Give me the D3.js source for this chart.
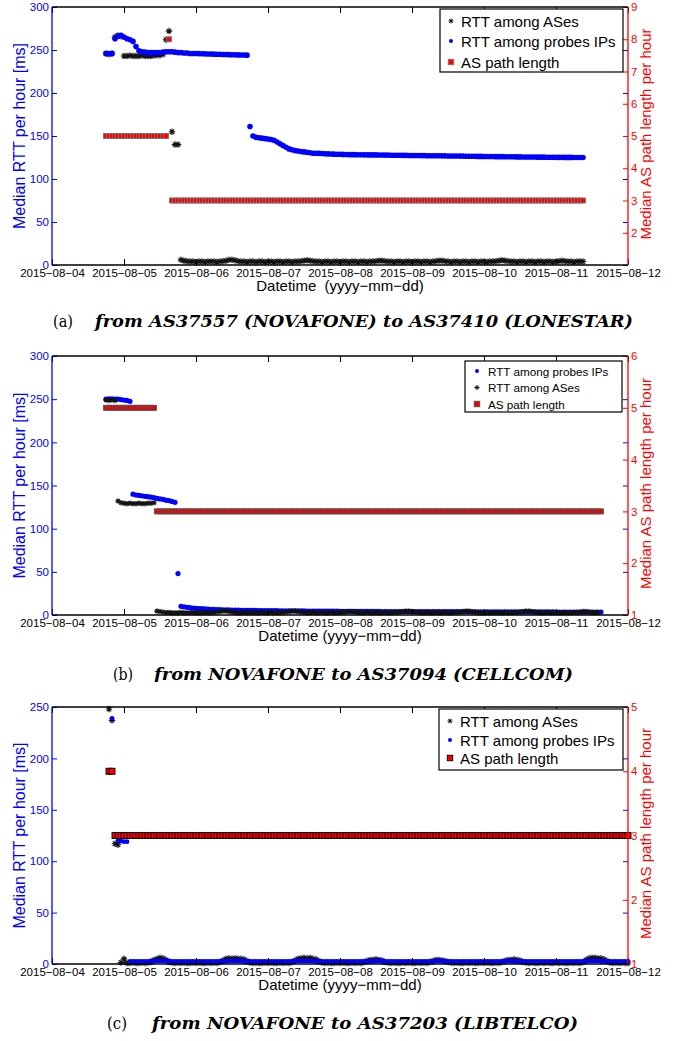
<!DOCTYPE html>
<html><head><meta charset="utf-8">
<script src="https://cdn.jsdelivr.net/npm/d3@7"></script>
<style>body{margin:0;background:#fff}svg{display:block}</style>
</head><body>
<svg id="chart" width="681" height="1041"></svg>
<script>
// ---------------- DATA ----------------
const dayTicks = ["2015-08-04","2015-08-05","2015-08-06","2015-08-07","2015-08-08","2015-08-09","2015-08-10","2015-08-11","2015-08-12"];
const leftTicksA = [0,50,100,150,200,250,300];
const rightTicksA = [2,3,4,5,6,7,8,9];
const leftTicksB = [0,50,100,150,200,250,300];
const rightTicksB = [1,2,3,4,5,6];
const leftTicksC = [0,50,100,150,200,250];
const rightTicksC = [1,2,3,4,5];
const legendA = ["RTT among ASes","RTT among probes IPs","AS path length"];
const legendB = ["RTT among probes IPs","RTT among ASes","AS path length"];
const legendC = ["RTT among ASes","RTT among probes IPs","AS path length"];
const captionTags = ["(a)","(b)","(c)"];
const captionTexts = ["from AS37557 (NOVAFONE) to AS37410 (LONESTAR)","from NOVAFONE to AS37094 (CELLCOM)","from NOVAFONE to AS37203 (LIBTELCO)"];
const xTitle = ["Datetime  (yyyy−mm−dd)","Datetime (yyyy−mm−dd)","Datetime (yyyy−mm−dd)"];
const yLeftTitle = "Median RTT per hour [ms]";
const yRightTitle = "Median AS path length per hour";

// Panel (a) hourly series (first value at the start hour)
const aProbesStart = "2015-08-04T18";
const aProbes = [246,246,246,263,266,267,265,263,262,260,254,249,
248,247.5,247,247,247,247,247,247.5,248,248,248,247.5,247,247,246.5,246.5,246,246,246,
245.8,245.6,245.5,245.4,245.3,245.2,245,245,244.8,244.7,244.6,244.5,244.4,244.3,244.2,244.1,244,
161,150,148.5,148,147.5,147,146.5,146,145,143,141,139,137,135,134,133,132.5,132,131.5,131,130.5,130,130,129.8,129.6,129.4,129.2,129,
128.9,128.8,128.7,128.6,128.5,128.4,128.3,128.3,128.2,128.2,128.1,128.1,128,128,128,127.9,127.9,
127.8,127.8,127.7,127.7,127.6,127.6,127.5,127.5,127.4,127.4,127.3,127.3,127.2,127.2,127.1,127.1,127,127,127,126.9,
126.9,126.8,126.8,126.7,126.7,126.6,126.6,126.5,126.5,126.4,126.4,126.3,126.3,126.2,126.2,126.1,126.1,126,126,126,
125.9,125.9,125.8,125.8,125.7,125.7,125.6,125.6,125.5,125.5,125.5,125.4,125.4,125.4,125.3,125.3,125.3,125.2,125.2,125.2,125.1,125.1,125.1,125,125,125,125];
const aASesStart = "2015-08-04T18";
const aASes = [246,245,246,265,267,266,
243,243,243.5,243,243,243,243.5,243,243,243,243.5,244,244,245,
262,272,155,140,140,6,
5,4.5,4,4,3.5,4,4,3.5,4,4,
4,3.5,4,4.5,5,6,6,5.5,4.5,4,
4,3.5,4,4,3.5,4,4,3.5,4,4,
3.5,4,4,3.5,4,4,3.5,4,4,4.5,
5,5.5,5,4.5,4,4,3.5,4,4,3.5,
4,4,3.5,4,4,3.5,4,4,3.5,4,
4,3.5,4,4,4.5,5,5,4.5,4,4,
3.5,4,4,3.5,4,4,3.5,4,4,3.5,
4,4,3.5,4,4.5,5,5,4.5,4,3.5,
4,4,3.5,4,4,3.5,4,4,3.5,4,
4,3.5,4,4,4.5,5,5.5,5,4.5,4,
4,3.5,4,4,3.5,4,4,3.5,4,4,
3.5,4,4,3.5,4,4.5,5,4.5,4,4,
3.5,4,4,4];
const aPathStart = "2015-08-04T18";
const aPath = [
5,5,5,5,5,5,5,5,5,5,
5,5,5,5,5,5,5,5,5,5,
5,8,
3,3,3,3,3,3,3,3,3,3, 3,3,3,3,3,3,3,3,3,3, 3,3,3,3,3,3,3,3,3,3,
3,3,3,3,3,3,3,3,3,3, 3,3,3,3,3,3,3,3,3,3, 3,3,3,3,3,3,3,3,3,3,
3,3,3,3,3,3,3,3,3,3, 3,3,3,3,3,3,3,3,3,3, 3,3,3,3,3,3,3,3,3,3,
3,3,3,3,3,3,3,3,3,3, 3,3,3,3,3,3,3,3,3,3, 3,3,3,3,3,3,3,3,3,3,
3,3,3,3,3,3,3,3,3,3, 3,3,3,3,3,3,3,3];

// Panel (b)
const bProbesStart = "2015-08-04T18";
const bProbes = [250,250.5,250.5,250,250,249.5,249,248.5,247.5,
140,139,138.5,138,137.5,137,136.5,136,135,134.5,134,133,132.5,131.5,130.5,
48,10,
9.5,9,8.5,8,7.8,7.5,7.3,7,6.8,6.6,
6.5,6.3,6.2,6,6,5.9,5.8,5.7,5.6,5.5,
5.5,5.4,5.4,5.3,5.3,5.2,5.2,5.1,5.1,5,
5,5,4.9,4.9,4.9,4.8,4.8,4.8,4.7,4.7,
4.7,4.6,4.6,4.6,4.5,4.5,4.5,4.5,4.4,4.4,
4.4,4.4,4.3,4.3,4.3,4.3,4.2,4.2,4.2,4.2,
4.2,4.1,4.1,4.1,4.1,4.1,4,4,4,4,
4,4,4,4,4,3.9,3.9,3.9,3.9,3.9,
3.9,3.9,3.9,3.9,3.8,3.8,3.8,3.8,3.8,3.8,
3.8,3.8,3.8,3.8,3.8,3.7,3.7,3.7,3.7,3.7,
3.7,3.7,3.7,3.7,3.7,3.7,3.7,3.6,3.6,3.6,
3.6,3.6,3.6,3.6,3.6,3.6,3.6,3.6,3.6,3.6,
3.6,3.6,3.6,3.6,3.5,3.5,3.5,3.5,3.5,3.5,
3.5,3.5,3.5,3.5,3.5,3.5,3.5,3.5,3.5,3.5];
const bASesStart = "2015-08-04T18";
const bASes = [249,248.5,249,248.5,132,
130,129.5,129,129.5,129,129,129.5,129,129,129.5,129.5,130,
4.5,4,3.5,3,3,2.5,2.5,2.5,3,2.5,
2.5,2.5,3,2.5,2.5,2.5,3,2.5,2.5,3,
3.5,4,4.5,4.5,4,3.5,3,2.5,2.5,3,
2.5,2.5,3,2.5,2.5,3,2.5,2.5,3,2.5,
2.5,3,3,3.5,4,4.5,4.5,4,3.5,3,
2.5,2.5,3,2.5,2.5,3,2.5,2.5,3,2.5,
2.5,3,3,3.5,4,4,3.5,3,2.5,2.5,
3,2.5,2.5,3,2.5,2.5,3,2.5,2.5,3,
3,3.5,4,4.5,4.5,4,3.5,3,2.5,2.5,
3,2.5,2.5,3,2.5,2.5,3,2.5,2.5,3,
3,3.5,4,4.5,4.5,4,3.5,3,2.5,2.5,
3,2.5,2.5,3,2.5,2.5,3,2.5,2.5,3,
3,3.5,4,4.5,4.5,4,3.5,3,2.5,2.5,
3,2.5,2.5,3,2.5,2.5,3,2.5,2.5,3,
3,3.5,4,4,3.5,3,2.5,3];
const bPathStart = "2015-08-04T18";
const bPath = [
5,5,5,5,5,5,5,5,5,5,
5,5,5,5,5,5,5,
3,3,3,3,3,3,3,3,3,3, 3,3,3,3,3,3,3,3,3,3, 3,3,3,3,3,3,3,3,3,3,
3,3,3,3,3,3,3,3,3,3, 3,3,3,3,3,3,3,3,3,3, 3,3,3,3,3,3,3,3,3,3,
3,3,3,3,3,3,3,3,3,3, 3,3,3,3,3,3,3,3,3,3, 3,3,3,3,3,3,3,3,3,3,
3,3,3,3,3,3,3,3,3,3, 3,3,3,3,3,3,3,3,3,3, 3,3,3,3,3,3,3,3,3,3,
3,3,3,3,3,3,3,3,3,3, 3,3,3,3,3,3,3,3,3,3, 3,3,3,3,3,3,3,3,3];

// Panel (c)
const cASesStart = "2015-08-04T19";
const cASes = [248,237,117,116,
1.5,5,1,1,1.5,1,1,1.5,1,1.5,
2,4,5,6,5.5,4,2,1.5,1,1.5,
1,1.5,1,1,1.5,1,1.5,1,1,1.5,
1,1.5,1,2,3.5,5,5.5,5,5.5,5,
5,4.5,3,1.5,1,1.5,1,1,1.5,1,
1.5,1,1,1.5,1,1.5,1,2,3.5,5,
5.5,6,5.5,6,5,4.5,3,1.5,1,1.5,
1,1,1.5,1,1.5,1,1,1.5,1,1.5,
1,2,3,4,4,4.5,4,3.5,2,1.5,
1,1.5,1,1,1.5,1,1.5,1,1,1.5,
1,1.5,1,2,3,4,4,3.5,3,2,
1.5,1,1.5,1,1,1.5,1,1.5,1,1,
1.5,1,1.5,1,1,1.5,1,2,3,4,
4,4.5,4,3.5,2,1.5,1,1.5,1,1,
1.5,1,1.5,1,1,1.5,1,1.5,1,1,
1.5,1,1.5,1,2,4,5.5,6,6,5.5,
5.5,4.5,3,1.5,1,1.5,1,1.5,1,1];
const cProbesStart = "2015-08-04T20";
const cProbes = [239,null,120,119.5,119,119,
2.5,2.5,2.5,2.5,2.5,2.5,2.5,3,3,3,
3,3,3,3,2.5,2.5,2.5,2.5,2.5,2.5,
2.5,2.5,2.5,2.5,2.5,2.5,2.5,2.5,2.5,2.5,
2.5,2.5,2.5,3,3,3,3,3,2.5,2.5,
2.5,2.5,2.5,2.5,2.5,2.5,2.5,2.5,2.5,2.5,
2.5,2.5,2.5,2.5,2.5,2.5,3,3,3,3,
3,3,2.5,2.5,2.5,2.5,2.5,2.5,2.5,2.5,
2.5,2.5,2.5,2.5,2.5,2.5,2.5,2.5,2.5,2.5,
2.5,2.5,3,3,3,2.5,2.5,2.5,2.5,2.5,
2.5,2.5,2.5,2.5,2.5,2.5,2.5,2.5,2.5,2.5,
2.5,2.5,3,3,3,2.5,2.5,2.5,2.5,2.5,
2.5,2.5,2.5,2.5,2.5,2.5,2.5,2.5,2.5,2.5,
2.5,2.5,2.5,2.5,2.5,3,3,3,2.5,2.5,
2.5,2.5,2.5,2.5,2.5,2.5,2.5,2.5,2.5,2.5,
2.5,2.5,2.5,2.5,2.5,2.5,2.5,2.5,2.5,2.5,
2.5,2.5,2.5,3,3,3,3,2.5,2.5,2.5,
2.5,2.5,2.5,2.5,2.5,2.5,2.5];
const cPathStart = "2015-08-04T19";
const cPath = [4,4,
3,3,3,3,3,3,3,3,3,3, 3,3,3,3,3,3,3,3,3,3, 3,3,3,3,3,3,3,3,3,3,
3,3,3,3,3,3,3,3,3,3, 3,3,3,3,3,3,3,3,3,3, 3,3,3,3,3,3,3,3,3,3,
3,3,3,3,3,3,3,3,3,3, 3,3,3,3,3,3,3,3,3,3, 3,3,3,3,3,3,3,3,3,3,
3,3,3,3,3,3,3,3,3,3, 3,3,3,3,3,3,3,3,3,3, 3,3,3,3,3,3,3,3,3,3,
3,3,3,3,3,3,3,3,3,3, 3,3,3,3,3,3,3,3,3,3, 3,3,3,3,3,3,3,3,3,3,
3,3,3,3,3,3,3,3,3,3, 3,3,3,3,3,3,3,3,3,3, 3,3];

// ---------------- LAYOUT / STYLE ----------------
const BLUE = "#0000ff", RED = "#ff0000";
const FONT = "'Liberation Sans', Arial, Helvetica, sans-serif";
const SERIF = "'DejaVu Serif', 'Liberation Serif', serif";
const L = 52, R = 628;

const parseT = d3.utcParse("%Y-%m-%dT%H");
const parseDay = d3.utcParse("%Y-%m-%d");
const days = dayTicks.map(parseDay);
const x = d3.scaleUtc().domain([days[0], days[days.length-1]]).range([L, R]);
const fmtDay = d => d3.utcFormat("%Y-%m-%d")(d).replace(/-/g, "−");

function pts(start, values) {
  const t0 = parseT(start);
  return values.map((v, i) => ({t: d3.utcHour.offset(t0, i), v})).filter(d => d.v != null);
}

const asterisk = {
  draw(ctx, size) {
    const r = Math.sqrt(size) / 2, q = r * 0.7071;
    ctx.moveTo(-r, 0); ctx.lineTo(r, 0);
    ctx.moveTo(0, -r); ctx.lineTo(0, r);
    ctx.moveTo(-q, -q); ctx.lineTo(q, q);
    ctx.moveTo(-q, q); ctx.lineTo(q, -q);
  }
};

const panels = [
  { top: 7, bottom: 265, yL: [0, 300], yR: [1, 9], lt: leftTicksA, rt: rightTicksA,
    series: [
      {kind: "star", data: pts(aASesStart, aASes)},
      {kind: "dot", data: pts(aProbesStart, aProbes)},
      {kind: "sq", data: pts(aPathStart, aPath)}],
    st: {star: 6.5, dot: 2.8, sq: 5, sqStroke: "#777", sqFill: "#f00"},
    legend: {x0: 440, x1: 623, y0: 9, y1: 72, rows: [21, 41, 62], mx: 451, tx: 461, fs: 15,
      labels: legendA, kinds: ["star", "dot", "sq"]},
    capY: 327, capClip: 334, tagX: 53, capX: 95, capW: 538 },
  { top: 356, bottom: 615, yL: [0, 300], yR: [1, 6], lt: leftTicksB, rt: rightTicksB,
    series: [
      {kind: "dot", data: pts(bProbesStart, bProbes)},
      {kind: "star", data: pts(bASesStart, bASes)},
      {kind: "sq", data: pts(bPathStart, bPath)}],
    st: {star: 5.5, dot: 2.6, sq: 5, sqStroke: "#555", sqFill: "#e00"},
    legend: {x0: 465, x1: 622, y0: 361, y1: 412, rows: [371, 387.5, 404], mx: 477, tx: 488, fs: 11.7,
      labels: legendB, kinds: ["dot", "star", "sq"]},
    capY: 680, capClip: 682, tagX: 113, capX: 154, capW: 419 },
  { top: 707, bottom: 964, yL: [0, 250], yR: [1, 5], lt: leftTicksC, rt: rightTicksC,
    series: [
      {kind: "star", data: pts(cASesStart, cASes)},
      {kind: "dot", data: pts(cProbesStart, cProbes)},
      {kind: "sq", data: pts(cPathStart, cPath)}],
    st: {star: 6.5, dot: 2.4, sq: 6, sqStroke: "#000", sqFill: "#f00"},
    legend: {x0: 439, x1: 623, y0: 709, y1: 770, rows: [721, 740, 758], mx: 450, tx: 460, fs: 15,
      labels: legendC, kinds: ["star", "dot", "sq"]},
    capY: 1029, capClip: 1041, tagX: 107, capX: 152, capW: 426 }
];

const svg = d3.select("#chart");
svg.append("rect").attr("width", 681).attr("height", 1041).attr("fill", "#fff");

panels.forEach((p, pi) => {
  const g = svg.append("g");
  const yl = d3.scaleLinear().domain(p.yL).range([p.bottom, p.top]);
  const yr = d3.scaleLinear().domain(p.yR).range([p.bottom, p.top]);

  // --- markers ---
  p.series.forEach(s => {
    const sg = g.append("g");
    if (s.kind === "star") {
      const sym = d3.symbol().type(asterisk).size(p.st.star * p.st.star);
      sg.selectAll("path").data(s.data).join("path")
        .attr("transform", d => `translate(${x(d.t)},${yl(d.v)})`)
        .attr("d", sym).attr("fill", "none").attr("stroke", "#111").attr("stroke-width", 1.1);
    } else if (s.kind === "dot") {
      sg.selectAll("circle").data(s.data).join("circle")
        .attr("cx", d => x(d.t)).attr("cy", d => yl(d.v)).attr("r", p.st.dot).attr("fill", BLUE);
    } else {
      const a = p.st.sq;
      sg.selectAll("rect").data(s.data).join("rect")
        .attr("x", d => x(d.t) - a / 2).attr("y", d => yr(d.v) - a / 2)
        .attr("width", a).attr("height", a)
        .attr("fill", p.st.sqFill).attr("stroke", p.st.sqStroke).attr("stroke-width", 0.9);
    }
  });

  // --- axes ---
  const styleAxis = (sel, color, fs) => {
    sel.select(".domain").remove();
    sel.selectAll(".tick line").attr("stroke", color).attr("stroke-width", 1);
    sel.selectAll(".tick text").attr("fill", color).attr("font-family", FONT).attr("font-size", fs);
  };
  g.append("g").attr("transform", `translate(0,${p.bottom})`)
    .call(d3.axisBottom(x).tickValues(days).tickSize(-6).tickPadding(4).tickFormat(fmtDay))
    .call(s => styleAxis(s, "#000", 11.5));
  g.append("g").attr("transform", `translate(0,${p.top})`)
    .call(d3.axisTop(x).tickValues(days).tickSize(-6).tickFormat(""))
    .call(s => styleAxis(s, "#000", 11.5));
  g.append("g").attr("transform", `translate(${L},0)`)
    .call(d3.axisLeft(yl).tickValues(p.lt).tickSize(-5).tickPadding(3).tickFormat(d3.format("d")))
    .call(s => styleAxis(s, BLUE, 11.5));
  g.append("g").attr("transform", `translate(${R},0)`)
    .call(d3.axisRight(yl).tickValues(p.lt).tickSize(-5).tickFormat(""))
    .call(s => styleAxis(s, BLUE, 11.5));
  g.append("g").attr("transform", `translate(${R},0)`)
    .call(d3.axisRight(yr).tickValues(p.rt).tickSize(-5).tickPadding(3).tickFormat(d3.format("d")))
    .call(s => styleAxis(s, RED, 11.5));

  // frame
  g.append("line").attr("x1", L).attr("x2", R).attr("y1", p.top).attr("y2", p.top).attr("stroke", "#000").attr("stroke-width", 1.3);
  g.append("line").attr("x1", L).attr("x2", R).attr("y1", p.bottom).attr("y2", p.bottom).attr("stroke", "#000").attr("stroke-width", 1.3);
  g.append("line").attr("x1", L).attr("x2", L).attr("y1", p.top).attr("y2", p.bottom).attr("stroke", BLUE).attr("stroke-width", 1.3);
  g.append("line").attr("x1", R).attr("x2", R).attr("y1", p.top).attr("y2", p.bottom).attr("stroke", RED).attr("stroke-width", 1.3);

  // titles
  const mid = (p.top + p.bottom) / 2;
  g.append("text").attr("transform", `translate(19.5,${mid}) rotate(-90)`)
    .attr("text-anchor", "middle").attr("dominant-baseline", "central")
    .attr("font-family", FONT).attr("font-size", 16).attr("fill", BLUE).text(yLeftTitle);
  g.append("text").attr("transform", `translate(645,${mid - 2}) rotate(-90)`)
    .attr("text-anchor", "middle").attr("dominant-baseline", "central")
    .attr("font-family", FONT).attr("font-size", 15).attr("fill", RED).text(yRightTitle);
  g.append("text").attr("x", (L + R) / 2).attr("y", p.bottom + 26)
    .attr("text-anchor", "middle").attr("font-family", FONT).attr("font-size", 15)
    .style("white-space", "pre").attr("fill", "#000").text(xTitle[pi]);

  // legend
  const lg = p.legend;
  g.append("rect").attr("x", lg.x0).attr("y", lg.y0).attr("width", lg.x1 - lg.x0).attr("height", lg.y1 - lg.y0)
    .attr("fill", "#fff").attr("stroke", "#000").attr("stroke-width", 1.2);
  lg.labels.forEach((lab, i) => {
    const k = lg.kinds[i], yy = lg.rows[i];
    if (k === "star") {
      g.append("path").attr("transform", `translate(${lg.mx},${yy})`)
        .attr("d", d3.symbol().type(asterisk).size(25)()).attr("fill", "none").attr("stroke", "#111").attr("stroke-width", 1);
    } else if (k === "dot") {
      g.append("circle").attr("cx", lg.mx).attr("cy", yy).attr("r", 2).attr("fill", BLUE);
    } else {
      const a = 5.5;
      g.append("rect").attr("x", lg.mx - a / 2).attr("y", yy - a / 2).attr("width", a).attr("height", a)
        .attr("fill", p.st.sqFill).attr("stroke", p.st.sqStroke).attr("stroke-width", 0.9);
    }
    g.append("text").attr("x", lg.tx).attr("y", yy).attr("dominant-baseline", "central")
      .attr("font-family", FONT).attr("font-size", lg.fs).attr("fill", "#000").text(lab);
  });

  // caption
  const cid = "capclip" + pi;
  svg.append("clipPath").attr("id", cid).append("rect").attr("x", 0).attr("y", 0).attr("width", 681).attr("height", p.capClip);
  const cg = svg.append("g").attr("clip-path", `url(#${cid})`);
  cg.append("text").attr("x", p.tagX).attr("y", p.capY).attr("font-family", SERIF).attr("font-size", 17)
    .attr("textLength", 20).attr("lengthAdjust", "spacingAndGlyphs").text(captionTags[pi]);
  cg.append("text").attr("x", p.capX).attr("y", p.capY).attr("font-family", SERIF).attr("font-size", 17)
    .attr("font-weight", "bold").attr("font-style", "italic")
    .attr("textLength", p.capW).attr("lengthAdjust", "spacingAndGlyphs").text(captionTexts[pi]);
});
</script>
</body></html>
